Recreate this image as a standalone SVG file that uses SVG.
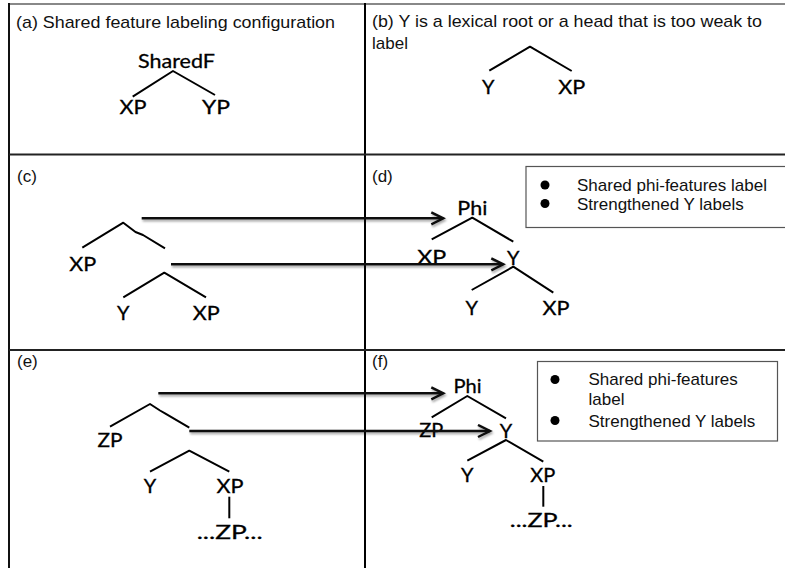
<svg xmlns="http://www.w3.org/2000/svg" width="785" height="568" viewBox="0 0 785 568">
<style>
.h { font-family: "Liberation Sans", Arial, sans-serif; font-size: 17px; fill: #111; }
.t { font-family: Lato, "Open Sans", sans-serif; font-size: 20px; fill: #000; stroke: #000; stroke-width: 0.3; text-anchor: middle; }
.br { fill: none; stroke: #000; stroke-width: 2; stroke-linecap: butt; stroke-linejoin: round; }
.grid { stroke: #222; stroke-width: 2; }
.arr { stroke: #111; stroke-width: 2.5; fill: none; marker-end: url(#ah); }
.leg { fill: #fff; stroke: #555; stroke-width: 1.2; }
</style>
<defs>
<marker id="ah" markerUnits="userSpaceOnUse" markerWidth="16" markerHeight="16" refX="13" refY="7" orient="auto">
<path d="M1,1 L13,7 L1,13" fill="none" stroke="#111" stroke-width="2.5"/>
</marker>
<filter id="sh" filterUnits="userSpaceOnUse" x="0" y="0" width="785" height="568">
<feDropShadow dx="1" dy="2" stdDeviation="1" flood-color="#000" flood-opacity="0.35"/>
</filter>
</defs>
<rect width="785" height="568" fill="#fff"/>
<g id="table">
<line x1="9" y1="4" x2="785" y2="4" stroke="#888" stroke-width="2"/>
<line x1="9" y1="3" x2="9" y2="568" stroke="#111" stroke-width="2"/>
<line x1="365" y1="3" x2="365" y2="568" stroke="#000" stroke-width="2"/>
<line class="grid" x1="9" y1="154.5" x2="785" y2="154.5"/>
<line class="grid" x1="9" y1="350" x2="785" y2="350"/>
</g>
<g id="headers">
<text class="h" x="16" y="28" textLength="319" lengthAdjust="spacingAndGlyphs">(a) Shared feature labeling configuration</text>
<text class="h" x="372" y="27" textLength="390" lengthAdjust="spacingAndGlyphs">(b) Y is a lexical root or a head that is too weak to</text>
<text class="h" x="372" y="49">label</text>
<text class="h" x="17" y="182">(c)</text>
<text class="h" x="372" y="182">(d)</text>
<text class="h" x="17" y="367">(e)</text>
<text class="h" x="372" y="367">(f)</text>
</g>
<g id="tree-a">
<text class="t" x="176.5" y="68" textLength="77" lengthAdjust="spacingAndGlyphs">SharedF</text>
<polyline class="br" points="132.7,96.7 173,71 215,95"/>
<text class="t" x="133" y="114" textLength="27" lengthAdjust="spacingAndGlyphs">XP</text>
<text class="t" x="216" y="114" textLength="28" lengthAdjust="spacingAndGlyphs">YP</text>
</g>
<g id="tree-b">
<polyline class="br" points="489.3,70.7 530,46.7 571.7,71"/>
<text class="t" x="488.3" y="94">Y</text>
<text class="t" x="571.7" y="94" textLength="27" lengthAdjust="spacingAndGlyphs">XP</text>
</g>
<g id="tree-c">
<polyline class="br" points="82.3,247.7 123.3,222.7 135.5,232 143,235 165,248.3"/>
<text class="t" x="82.7" y="270.7" textLength="27" lengthAdjust="spacingAndGlyphs">XP</text>
<polyline class="br" points="123.3,297.3 164.3,272.7 206,297.3"/>
<text class="t" x="123.3" y="320">Y</text>
<text class="t" x="206.3" y="320" textLength="27" lengthAdjust="spacingAndGlyphs">XP</text>
</g>
<g id="tree-d">
<text class="t" x="472.3" y="215" textLength="30" lengthAdjust="spacingAndGlyphs">Phi</text>
<polyline class="br" points="431.7,239.3 472.3,217.7 513.3,241.7"/>
<text class="t" x="431.7" y="264.3" textLength="29" lengthAdjust="spacingAndGlyphs">XP</text>
<text class="t" x="513.3" y="265">Y</text>
<polyline class="br" points="471.7,290 513.3,266.7 553.3,292.7"/>
<text class="t" x="471.7" y="315">Y</text>
<text class="t" x="556" y="315" textLength="27" lengthAdjust="spacingAndGlyphs">XP</text>
</g>
<g id="legend-d">
<rect class="leg" x="526" y="166.5" width="270" height="61"/>
<circle cx="545" cy="185" r="4.5" fill="#000"/>
<circle cx="545" cy="203.5" r="4.5" fill="#000"/>
<text class="h" x="577" y="190.5">Shared phi-features label</text>
<text class="h" x="577" y="209.5">Strengthened Y labels</text>
</g>
<g id="tree-e">
<polyline class="br" points="110,426.7 150,404 160,410.5 165,413.3 189.3,427.7"/>
<text class="t" x="110" y="447.3" textLength="25" lengthAdjust="spacingAndGlyphs">ZP</text>
<polyline class="br" points="150,471.7 189.3,450.7 229.3,471.7"/>
<text class="t" x="150" y="493.3">Y</text>
<text class="t" x="230" y="493.3" textLength="27" lengthAdjust="spacingAndGlyphs">XP</text>
<line class="br" x1="229.3" y1="496.7" x2="229.3" y2="518.3"/>
<text class="t" x="229.7" y="539.3" textLength="66" lengthAdjust="spacingAndGlyphs">...ZP...</text>
</g>
<g id="tree-f">
<text class="t" x="467.5" y="393.3" textLength="28" lengthAdjust="spacingAndGlyphs">Phi</text>
<polyline class="br" points="431.7,417.3 467.3,396 506,418.3"/>
<text class="t" x="431.3" y="437.3" textLength="24" lengthAdjust="spacingAndGlyphs">ZP</text>
<text class="t" x="506" y="438.3">Y</text>
<polyline class="br" points="467.3,460.7 506,440 543.3,461.7"/>
<text class="t" x="467.3" y="481.7">Y</text>
<text class="t" x="542.7" y="481.7" textLength="25" lengthAdjust="spacingAndGlyphs">XP</text>
<line class="br" x1="543.3" y1="486" x2="543.3" y2="506.7"/>
<text class="t" x="541.3" y="526.7" textLength="63" lengthAdjust="spacingAndGlyphs">...ZP...</text>
</g>
<g id="legend-f">
<rect class="leg" x="537.5" y="361.5" width="240" height="79.5"/>
<circle cx="555" cy="379.5" r="4.5" fill="#000"/>
<circle cx="555" cy="420.5" r="4.5" fill="#000"/>
<text class="h" x="588.5" y="385">Shared phi-features</text>
<text class="h" x="588.5" y="405">label</text>
<text class="h" x="588.5" y="426.5">Strengthened Y labels</text>
</g>
<g id="connectors" filter="url(#sh)">
<line class="arr" x1="141.7" y1="218.3" x2="443.3" y2="218.3"/>
<line class="arr" x1="171" y1="264.3" x2="503.3" y2="264.3"/>
<line class="arr" x1="158.3" y1="393.3" x2="443.3" y2="393.3"/>
<line class="arr" x1="189.3" y1="431" x2="490" y2="431"/>
</g>
</svg>
